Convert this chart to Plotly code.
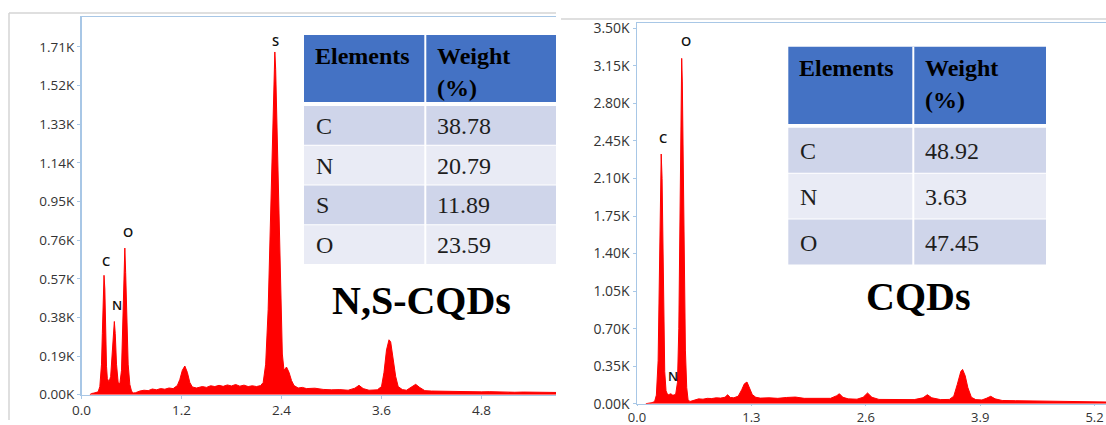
import plotly.graph_objects as go

W, H = 1106, 425

# ---------------- data ----------------
ns_energy = [0.10, 0.12, 0.15, 0.18, 0.20, 0.22, 0.24, 0.25, 0.26, 0.27, 0.28, 0.29, 0.30, 0.31,
             0.33, 0.35, 0.37, 0.385, 0.394, 0.405, 0.42, 0.44, 0.46, 0.48, 0.495, 0.51, 0.52,
             0.53, 0.545, 0.56, 0.58, 0.60, 0.62, 0.65, 0.70, 0.75, 0.80, 0.85, 0.90, 0.95, 1.00,
             1.05, 1.10, 1.15, 1.18, 1.21, 1.24, 1.27, 1.30, 1.33, 1.38, 1.45, 1.50, 1.55, 1.60,
             1.65, 1.70, 1.75, 1.80, 1.85, 1.90, 1.95, 2.00, 2.05, 2.10, 2.15, 2.18, 2.21, 2.24,
             2.27, 2.29, 2.31, 2.32, 2.33, 2.35, 2.37, 2.39, 2.41, 2.43, 2.46, 2.49, 2.52, 2.55,
             2.60, 2.65, 2.70, 2.80, 2.90, 3.00, 3.10, 3.20, 3.28, 3.33, 3.38, 3.45, 3.55, 3.60,
             3.63, 3.66, 3.69, 3.71, 3.74, 3.77, 3.80, 3.85, 3.90, 3.95, 4.01, 4.06, 4.12, 4.20,
             4.30, 4.40, 4.50, 4.60, 4.70, 4.80, 4.90, 5.00, 5.10, 5.20, 5.30, 5.40, 5.50, 5.60,
             5.70]
ns_counts = [0, 6, 8, 10, 14, 40, 150, 300, 480, 587, 520, 300, 140, 80,
             62, 90, 200, 330, 360, 300, 150, 60, 54, 120, 350, 620, 721,
             600, 330, 150, 50, 18, 8, 10, 18, 22, 20, 28, 24, 30, 27,
             33, 30, 45, 75, 120, 141, 110, 60, 38, 33, 40, 36, 44, 40,
             46, 41, 48, 43, 50, 42, 47, 40, 44, 40, 45, 60, 150, 420,
             900, 1300, 1620, 1685, 1600, 1250, 800, 420, 200, 120, 136, 110, 70, 45,
             33, 36, 30, 32, 26, 24, 25, 22, 32, 46, 30, 22, 24, 40,
             110, 220, 270, 260, 180, 90, 40, 25, 22, 35, 51, 35, 20, 18,
             17, 16, 18, 15, 16, 14, 15, 13, 14, 12, 13, 12, 11, 12,
             11]

cq_energy = [0.10, 0.14, 0.17, 0.20, 0.22, 0.24, 0.255, 0.265, 0.275, 0.285, 0.295, 0.305, 0.315,
             0.33, 0.35, 0.37, 0.386, 0.40, 0.42, 0.44, 0.46, 0.475, 0.49, 0.50, 0.508, 0.515,
             0.525, 0.535, 0.55, 0.565, 0.58, 0.60, 0.65, 0.70, 0.75, 0.80, 0.85, 0.90, 0.95,
             1.00, 1.03, 1.06, 1.10, 1.15, 1.19, 1.22, 1.25, 1.28, 1.31, 1.35, 1.40, 1.50, 1.60,
             1.70, 1.80, 1.90, 2.00, 2.10, 2.20, 2.27, 2.30, 2.34, 2.40, 2.50, 2.57, 2.62, 2.67,
             2.75, 2.85, 2.95, 3.05, 3.15, 3.25, 3.30, 3.35, 3.45, 3.55, 3.60, 3.64, 3.68, 3.70,
             3.73, 3.76, 3.80, 3.85, 3.92, 3.97, 4.02, 4.07, 4.15, 4.30, 4.50, 4.70, 4.90, 5.10,
             5.33]
cq_counts = [0, 5, 10, 20, 80, 400, 1200, 2000, 2328, 2100, 1400, 700, 300,
             120, 80, 88, 93, 82, 80, 90, 200, 700, 1800, 2800, 3220, 3000,
             2200, 1300, 500, 150, 40, 20, 35, 45, 42, 50, 48, 55, 52,
             60, 84, 58, 55, 70, 130, 185, 202, 150, 85, 60, 52, 55, 50,
             58, 62, 50, 48, 45, 50, 75, 93, 60, 45, 42, 60, 100, 60,
             40, 38, 36, 35, 38, 55, 84, 55, 38, 40, 70, 180, 300, 320,
             260, 150, 60, 38, 35, 50, 69, 45, 30, 28, 25, 22, 20, 18,
             16]

ns_yticks_k = [0.00, 0.19, 0.38, 0.57, 0.76, 0.95, 1.14, 1.33, 1.52, 1.71]
cq_yticks_k = [0.00, 0.35, 0.70, 1.05, 1.40, 1.75, 2.10, 2.45, 2.80, 3.15, 3.50]
ns_xticks = [0.0, 1.2, 2.4, 3.6, 4.8]
cq_xticks = [0.0, 1.3, 2.6, 3.9, 5.2]

ns_peak_labels = ["C", "N", "O", "S"]
ns_peak_energy = [0.294, 0.422, 0.554, 2.322]
ns_peak_label_counts = [656, 442, 800, 1738]
cq_peak_labels = ["C", "N", "O"]
cq_peak_energy = [0.299, 0.4125, 0.557]
cq_peak_label_counts = [2474, 255, 3384]

table_header = ["Elements", "Weight", "(%)"]
ns_elements = ["C", "N", "S", "O"]
ns_weights = ["38.78", "20.79", "11.89", "23.59"]
cq_elements = ["C", "N", "O"]
cq_weights = ["48.92", "3.63", "47.45"]
ns_title = "N,S-CQDs"
cq_title = "CQDs"

# ---------------- helpers ----------------
def px(x):
    return x / W


def py(y):
    return 1 - y / H


AXIS_COLOR = "#a8c7e6"
TICK_FONT = dict(family="Open Sans", size=13.5, color="#333333")
SERIF = "Liberation Serif"
RED = "#ff0000"

fig = go.Figure()
fig.add_trace(go.Scatter(x=ns_energy, y=ns_counts, mode="lines", fill="tozeroy",
                         line=dict(color=RED, width=1), fillcolor=RED,
                         xaxis="x", yaxis="y", hoverinfo="skip", showlegend=False))
fig.add_trace(go.Scatter(x=cq_energy, y=cq_counts, mode="lines", fill="tozeroy",
                         line=dict(color=RED, width=1), fillcolor=RED,
                         xaxis="x2", yaxis="y2", hoverinfo="skip", showlegend=False))

common = dict(showgrid=False, zeroline=False, showline=True, linecolor=AXIS_COLOR,
              linewidth=1.5, ticks="outside", tickcolor=AXIS_COLOR,
              tickwidth=1, fixedrange=True, automargin=False)

fig.update_layout(
    template="none",
    width=W, height=H, margin=dict(l=0, r=0, t=0, b=0, pad=0), autosize=False,
    paper_bgcolor="white", plot_bgcolor="white", showlegend=False,
    xaxis=dict(domain=[px(81.5), px(556)], range=[0, 5.694], anchor="y",
               tickvals=ns_xticks, ticktext=[f"{v:.1f}" for v in ns_xticks],
               tickfont=TICK_FONT, mirror=True, ticklen=3, **common),
    yaxis=dict(domain=[py(394.7), py(17)], range=[0, 1857], anchor="x",
               tickvals=[v * 1000 for v in ns_yticks_k],
               ticktext=[f"{v:.2f}K" for v in ns_yticks_k],
               tickfont=TICK_FONT, ticklen=3, **common),
    xaxis2=dict(domain=[px(637), px(1106)], range=[0, 5.33], anchor="y2",
                tickvals=cq_xticks, ticktext=[f"{v:.1f}" for v in cq_xticks],
                tickfont=dict(TICK_FONT, size=13), mirror=True, ticklen=1, **common),
    yaxis2=dict(domain=[py(403.7), py(23.3)], range=[0, 3547], anchor="x2",
                tickvals=[v * 1000 for v in cq_yticks_k],
                ticktext=[f"{v:.2f}K" for v in cq_yticks_k],
                tickfont=dict(TICK_FONT, size=14), ticklen=3, **common),
)

shapes = []
annotations = []

# outer light-gray panel frames
FRAME = "#d4d4d4"
shapes.append(dict(type="line", xref="paper", yref="paper", x0=px(9), x1=px(9),
                   y0=py(13), y1=py(420), line=dict(color=FRAME, width=1.5)))
shapes.append(dict(type="line", xref="paper", yref="paper", x0=px(9), x1=px(556),
                   y0=py(13), y1=py(13), line=dict(color=FRAME, width=1.5)))
shapes.append(dict(type="line", xref="paper", yref="paper", x0=px(561), x1=px(1106),
                   y0=py(19), y1=py(19), line=dict(color=FRAME, width=1.5)))

# peak labels
LABEL_FONT = dict(family="Open Sans", size=13, color="#111111", weight=600)
for lab, e, c in zip(ns_peak_labels, ns_peak_energy, ns_peak_label_counts):
    annotations.append(dict(x=e, y=c, xref="x", yref="y", text=lab, showarrow=False,
                            font=LABEL_FONT, xanchor="center", yanchor="middle"))
for lab, e, c in zip(cq_peak_labels, cq_peak_energy, cq_peak_label_counts):
    annotations.append(dict(x=e, y=c, xref="x2", yref="y2", text=lab, showarrow=False,
                            font=LABEL_FONT, xanchor="center", yanchor="middle"))

HEAD_BG = "#4472c4"
ROW_DARK = "#cfd5ea"
ROW_LIGHT = "#e9ebf5"


def draw_table(x0, xdiv, x1, head_top, head_bot, body_top, body_bot, elements, weights):
    shapes.append(dict(type="rect", xref="paper", yref="paper", x0=px(x0), x1=px(x1),
                       y0=py(head_bot), y1=py(head_top), fillcolor=HEAD_BG,
                       line=dict(width=0), layer="above"))
    n = len(elements)
    rh = (body_bot - body_top) / n
    for i in range(n):
        top = body_top + i * rh
        shapes.append(dict(type="rect", xref="paper", yref="paper", x0=px(x0), x1=px(x1),
                           y0=py(top + rh - 0.5), y1=py(top + 0.5),
                           fillcolor=ROW_DARK if i % 2 == 0 else ROW_LIGHT,
                           line=dict(width=0), layer="above"))
        cy = top + rh / 2 + 0.5
        annotations.append(dict(x=px(x0 + 10), y=py(cy), xref="paper", yref="paper",
                                text=elements[i], showarrow=False, xanchor="left",
                                yanchor="middle",
                                font=dict(family=SERIF, size=24, color="#1e1e1e")))
        annotations.append(dict(x=px(xdiv + 10), y=py(cy), xref="paper", yref="paper",
                                text=weights[i], showarrow=False, xanchor="left",
                                yanchor="middle",
                                font=dict(family=SERIF, size=24, color="#1e1e1e")))
    shapes.append(dict(type="line", xref="paper", yref="paper", x0=px(xdiv), x1=px(xdiv),
                       y0=py(body_bot), y1=py(head_top),
                       line=dict(color="white", width=2), layer="above"))
    hy = head_top + 21
    head_font = dict(family=SERIF, size=24, color="#000000", weight="bold")
    annotations.append(dict(x=px(x0 + 9), y=py(hy), xref="paper", yref="paper",
                            text=table_header[0], showarrow=False, xanchor="left",
                            yanchor="middle", font=head_font))
    annotations.append(dict(x=px(xdiv + 10), y=py(hy), xref="paper", yref="paper",
                            text=table_header[1], showarrow=False, xanchor="left",
                            yanchor="middle", font=head_font))
    annotations.append(dict(x=px(xdiv + 10), y=py(hy + 32), xref="paper", yref="paper",
                            text=table_header[2], showarrow=False, xanchor="left",
                            yanchor="middle", font=head_font))


draw_table(304, 425.3, 556, 35, 102, 105.5, 264.5, ns_elements, ns_weights)
draw_table(788.3, 913.3, 1046, 46.7, 124, 127.2, 265, cq_elements, cq_weights)

TITLE_FONT = dict(family=SERIF, size=40, color="#000000", weight="bold")
annotations.append(dict(x=px(421), y=py(300), xref="paper", yref="paper", text=ns_title,
                        showarrow=False, xanchor="center", yanchor="middle", font=TITLE_FONT))
annotations.append(dict(x=px(917.5), y=py(296), xref="paper", yref="paper", text=cq_title,
                        showarrow=False, xanchor="center", yanchor="middle", font=TITLE_FONT))

fig.update_layout(shapes=shapes, annotations=annotations)
fig.write_html(
    "out.html",
    config={"displayModeBar": False, "staticPlot": True},
    post_script="document.body.style.margin='0';document.body.style.overflow='hidden';",
)
